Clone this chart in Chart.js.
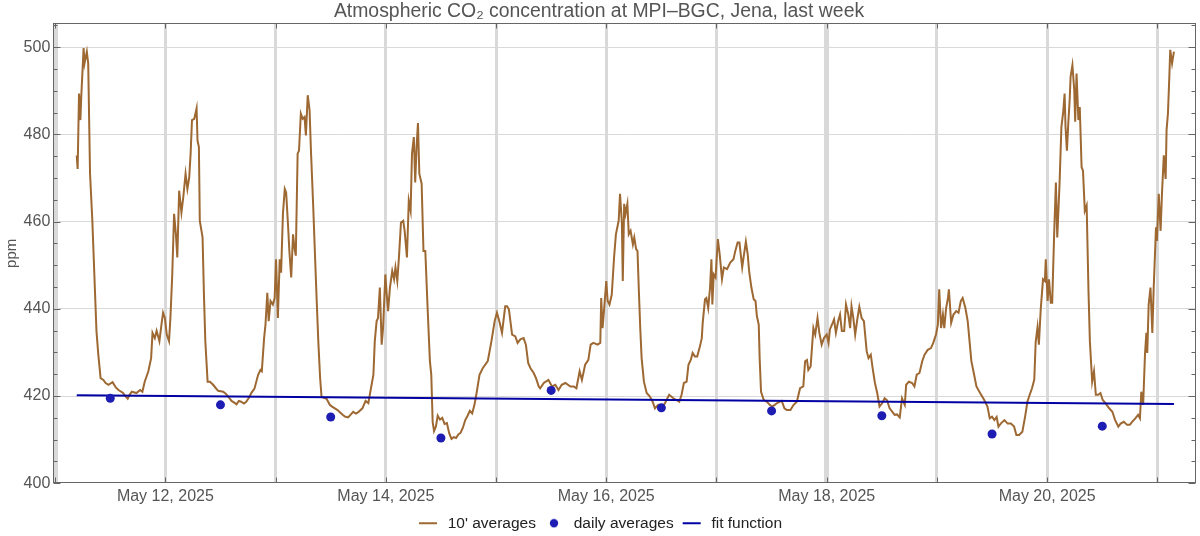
<!DOCTYPE html>
<html>
<head>
<meta charset="utf-8">
<title>Atmospheric CO2 concentration at MPI-BGC, Jena</title>
<script src="https://cdn.jsdelivr.net/npm/chart.js@4.4.1/dist/chart.umd.min.js"></script>
<style>
  html, body { margin: 0; padding: 0; background: #fff; }
  #wrap { width: 1200px; height: 536px; }
</style>
</head>
<body>
<div id="wrap"><canvas id="co2Chart"></canvas></div>
<script>
// x values are hours since May 11, 2025 00:00

// 10' averages
const hoursMay11 = [4.7, 4.9, 5.2, 5.5, 5.7, 6.2, 6.4, 6.9, 7.2, 7.6, 8.1, 8.7, 9.0, 9.4, 9.9, 10.5, 11.0, 11.6, 12.5, 13.2, 13.8, 14.8, 15.3, 15.8, 16.2, 16.7, 17.7, 18.5, 19.0, 19.5, 20.3, 20.9, 21.2, 21.7, 22.1, 22.7, 23.2, 23.5, 23.9];
const ppmMay11 = [475.2, 472.1, 489.4, 483.3, 489.0, 499.8, 496.3, 499.0, 496.3, 471.0, 460.2, 443.3, 434.9, 429.5, 424.1, 423.7, 423.0, 422.6, 423.2, 422.0, 421.4, 420.7, 420.0, 419.4, 420.3, 421.0, 420.7, 421.4, 421.0, 423.3, 425.7, 428.7, 434.5, 433.3, 435.0, 432.6, 436.8, 439.1, 437.9];

const hoursMay12 = [24.3, 24.8, 25.1, 25.5, 25.9, 26.3, 26.6, 27.0, 27.5, 27.9, 28.4, 28.8, 29.2, 29.5, 29.8, 30.3, 30.8, 31.0, 31.3, 31.5, 32.1, 32.4, 32.7, 33.2, 33.7, 34.4, 35.0, 35.5, 36.6, 37.2, 37.7, 38.4, 39.0, 39.5, 40.0, 40.5, 41.1, 41.6, 42.2, 42.7, 43.4, 44.2, 44.7, 45.0, 45.5, 45.8, 46.2, 46.5, 46.9, 47.4, 47.8];
const ppmMay12 = [434.1, 432.6, 437.9, 447.9, 461.8, 457.1, 451.8, 467.1, 462.1, 465.6, 471.0, 467.5, 470.2, 475.6, 483.3, 483.6, 486.0, 478.6, 477.1, 460.2, 456.4, 443.3, 432.6, 423.3, 423.3, 422.6, 421.8, 421.2, 421.0, 420.5, 419.9, 418.9, 418.5, 418.1, 418.9, 418.7, 418.3, 418.7, 419.6, 420.7, 421.7, 424.9, 426.0, 425.7, 433.3, 436.4, 443.7, 437.2, 441.8, 441.0, 442.5];

const hoursMay13 = [48.1, 48.5, 48.9, 49.2, 49.6, 50.0, 50.3, 50.7, 51.0, 51.4, 51.8, 52.1, 52.4, 52.8, 53.1, 53.5, 53.9, 54.3, 54.6, 55.0, 55.4, 55.7, 56.2, 56.6, 56.9, 57.3, 57.7, 58.0, 58.5, 59.1, 59.8, 60.3, 60.9, 61.5, 62.0, 62.6, 63.1, 63.8, 64.4, 64.9, 65.5, 66.0, 66.9, 67.6, 68.2, 68.7, 69.3, 69.6, 70.0, 70.3, 70.7, 71.1, 71.4, 71.9];
const ppmMay13 = [451.4, 437.9, 451.4, 448.3, 461.8, 467.5, 466.7, 459.4, 453.3, 447.2, 457.1, 454.0, 452.2, 475.6, 476.3, 484.8, 483.6, 484.0, 479.8, 489.0, 485.6, 476.3, 463.3, 451.8, 443.3, 432.6, 424.1, 419.9, 419.6, 419.4, 418.0, 417.6, 417.2, 416.8, 416.3, 415.7, 415.3, 415.1, 415.8, 416.4, 416.0, 416.3, 417.2, 418.9, 418.4, 421.4, 424.9, 432.6, 437.2, 437.9, 444.9, 431.8, 435.6, 447.9];

const hoursMay14 = [72.2, 72.5, 72.9, 73.4, 73.8, 74.1, 74.5, 74.9, 75.3, 75.8, 76.1, 76.6, 77.0, 77.4, 77.7, 78.1, 78.4, 78.7, 79.0, 79.3, 79.8, 80.2, 80.6, 81.1, 81.6, 81.9, 82.2, 82.5, 82.9, 83.3, 83.8, 84.3, 84.8, 85.3, 85.8, 86.3, 86.8, 87.3, 87.8, 88.3, 88.8, 89.3, 89.8, 90.3, 90.8, 91.3, 91.7, 92.4, 93.1, 94.2, 95.0, 95.7];
const ppmMay14 = [443.3, 439.5, 444.9, 448.7, 446.8, 449.5, 446.4, 452.5, 459.8, 460.2, 457.9, 451.8, 464.8, 462.5, 475.6, 479.4, 469.0, 477.1, 482.6, 471.0, 468.7, 453.3, 453.3, 440.2, 428.0, 424.9, 414.1, 412.0, 413.0, 415.5, 414.6, 415.0, 413.6, 413.8, 411.5, 410.2, 410.6, 410.4, 411.2, 411.6, 412.8, 414.5, 415.5, 416.6, 416.0, 418.0, 420.3, 424.9, 426.4, 428.0, 432.6, 437.2];

const hoursMay15 = [96.2, 96.8, 97.3, 98.0, 98.4, 98.8, 99.5, 100.2, 100.7, 101.3, 102.0, 102.5, 103.0, 103.5, 104.2, 104.7, 105.3, 105.6, 106.4, 107.4, 108.2, 108.9, 109.6, 110.3, 111.1, 112.2, 112.9, 113.5, 114.2, 114.7, 115.4, 116.1, 116.6, 117.2, 118.1, 118.7, 118.9, 119.2, 119.5];
const ppmMay15 = [439.1, 436.8, 434.5, 440.6, 440.6, 439.9, 434.1, 433.7, 432.2, 433.0, 433.3, 431.8, 427.6, 426.4, 425.3, 424.1, 422.2, 421.8, 423.0, 423.7, 422.2, 422.6, 421.4, 422.6, 423.0, 422.2, 422.2, 421.8, 425.7, 423.7, 427.2, 428.3, 431.8, 432.2, 431.8, 432.2, 442.5, 435.6, 439.5];

const hoursMay16 = [120.0, 120.3, 120.7, 121.2, 121.7, 122.1, 122.7, 123.0, 123.4, 123.6, 123.9, 124.2, 124.6, 124.9, 125.3, 125.8, 126.1, 126.5, 126.8, 127.1, 127.4, 127.7, 128.2, 128.8, 129.5, 130.1, 130.6, 131.3, 132.1, 132.8, 133.7, 134.6, 135.3, 135.9, 136.4, 136.9, 137.5, 137.9, 138.4, 138.8, 139.3, 139.8, 140.4, 140.8, 141.0, 141.5, 141.8, 142.2, 142.6, 142.9, 143.1, 143.4, 143.8];
const ppmMay16 = [446.4, 441.8, 441.0, 443.3, 451.8, 457.1, 460.2, 466.4, 459.8, 446.4, 464.1, 461.8, 464.1, 457.1, 457.9, 454.8, 456.4, 453.7, 453.3, 444.1, 435.6, 428.7, 423.3, 420.7, 419.9, 418.7, 417.2, 418.0, 417.2, 418.4, 420.3, 419.5, 419.1, 418.7, 420.3, 423.0, 423.3, 427.2, 428.3, 429.9, 429.1, 429.1, 431.4, 433.3, 436.8, 442.2, 442.5, 440.2, 444.9, 451.4, 441.0, 447.9, 447.2];

const hoursMay17 = [144.3, 144.7, 145.2, 145.6, 146.3, 147.0, 147.7, 148.1, 148.6, 149.0, 149.6, 149.9, 150.4, 150.8, 151.1, 151.6, 152.1, 152.5, 152.8, 153.2, 153.4, 153.7, 154.3, 155.0, 155.6, 156.1, 156.7, 157.2, 158.2, 158.8, 159.3, 160.1, 160.8, 161.5, 162.2, 162.9, 163.3, 163.7, 164.0, 164.5, 165.1, 165.5, 166.0, 166.4, 166.9, 167.4];
const ppmMay17 = [456.0, 452.5, 446.8, 449.5, 449.1, 450.6, 451.4, 453.3, 455.2, 455.2, 449.5, 451.8, 455.4, 452.5, 448.7, 444.9, 442.2, 441.8, 438.3, 436.4, 428.7, 421.0, 419.1, 418.7, 418.0, 417.6, 418.0, 418.4, 418.9, 417.2, 416.8, 416.8, 418.0, 418.7, 421.8, 422.2, 428.0, 428.3, 426.0, 426.8, 435.6, 434.1, 437.9, 434.5, 431.8, 433.3];

const hoursMay18 = [168.0, 168.4, 168.7, 169.3, 169.6, 170.0, 170.5, 170.9, 171.3, 171.8, 172.2, 172.7, 173.1, 173.4, 173.8, 174.2, 174.7, 175.1, 175.6, 176.1, 176.7, 177.1, 177.6, 178.0, 178.5, 179.0, 179.5, 180.1, 180.6, 181.1, 181.7, 182.3, 182.8, 183.3, 183.9, 184.4, 185.0, 185.3, 185.9, 186.6, 187.1, 187.6, 188.2, 188.8, 189.3, 190.0, 190.7, 191.2, 191.8];
const ppmMay18 = [434.1, 432.2, 435.3, 436.8, 437.6, 434.5, 437.2, 438.7, 434.9, 434.9, 441.0, 438.7, 435.6, 440.6, 437.9, 434.1, 437.9, 440.5, 437.9, 437.2, 430.3, 428.7, 429.5, 426.4, 423.0, 420.7, 417.6, 418.4, 419.5, 419.1, 417.2, 416.4, 415.7, 415.8, 415.1, 419.5, 418.0, 422.6, 423.3, 423.0, 422.2, 424.9, 425.3, 428.0, 429.5, 430.6, 431.0, 432.2, 434.1];

const hoursMay19 = [192.2, 192.5, 192.9, 193.3, 193.6, 194.0, 194.4, 194.6, 195.1, 195.6, 196.2, 196.7, 197.2, 197.6, 198.2, 198.7, 199.1, 199.5, 200.1, 200.6, 201.4, 202.3, 203.0, 203.5, 204.0, 204.5, 205.0, 205.4, 205.9, 206.7, 207.4, 208.1, 208.8, 209.3, 209.9, 210.6, 211.2, 211.7, 212.2, 212.7, 213.2, 213.5, 213.9, 214.2, 214.6, 215.1, 215.5, 215.7];
const ppmMay19 = [436.4, 444.5, 435.6, 438.7, 435.6, 440.2, 442.5, 444.5, 436.8, 438.7, 439.5, 439.1, 441.8, 442.5, 440.2, 437.2, 432.6, 428.0, 424.9, 422.2, 420.7, 419.1, 417.6, 414.9, 415.3, 414.5, 415.2, 413.0, 413.7, 414.5, 413.7, 413.7, 413.0, 411.1, 411.1, 411.8, 415.3, 418.7, 420.3, 421.8, 423.8, 432.4, 435.8, 431.8, 439.9, 446.8, 446.4, 451.4];

const hoursMay20 = [216.1, 216.4, 216.8, 217.1, 217.5, 217.9, 218.2, 218.7, 219.1, 219.5, 219.8, 220.0, 220.3, 220.6, 220.9, 221.1, 221.5, 221.9, 222.1, 222.4, 222.8, 223.1, 223.5, 223.8, 224.2, 224.6, 225.0, 225.3, 225.8, 226.2, 226.6, 227.1, 227.6, 228.1, 228.7, 229.5, 230.2, 230.8, 231.5, 232.0, 232.7, 233.4, 234.0, 234.5, 235.2, 235.8, 236.2, 236.5, 236.9, 237.3, 237.6, 237.8, 238.1, 238.5, 238.9, 239.2, 239.7, 239.9];
const ppmMay20 = [441.8, 446.8, 441.4, 441.4, 456.4, 469.0, 456.4, 468.7, 481.7, 485.2, 489.4, 481.7, 476.3, 482.5, 487.9, 493.2, 495.9, 490.2, 482.9, 494.0, 483.3, 486.3, 472.5, 471.7, 462.5, 463.7, 444.1, 432.6, 423.3, 425.7, 420.3, 420.3, 420.7, 419.1, 418.4, 417.2, 416.4, 414.5, 413.0, 413.7, 414.1, 413.4, 413.4, 414.1, 414.9, 415.7, 414.9, 421.0, 418.0, 429.5, 434.5, 429.9, 441.0, 444.9, 434.5, 444.9, 458.7, 455.6];

const hoursMay21 = [240.3, 240.7, 241.0, 241.4, 241.8, 242.0, 242.3, 242.6, 242.8, 243.2, 243.6];
const ppmMay21 = [466.4, 457.9, 466.4, 475.2, 469.8, 481.0, 484.8, 493.2, 499.4, 496.3, 499.0];

// daily averages (plotted at noon)
const dailyHours = [12, 36, 60, 84, 108, 132, 156, 180, 204, 228];
const dailyPpm = [419.5, 418.0, 415.2, 410.4, 421.3, 417.3, 416.6, 415.5, 411.3, 413.1];

// fit function end points
const fitHours = [4.7, 243.6];
const fitPpm = [420.2, 418.2];

// axes
const dayTicks = [0, 24, 48, 72, 96, 120, 144, 168, 192, 216, 240];
const dayLabels = ["", "May 12, 2025", "", "May 14, 2025", "", "May 16, 2025", "", "May 18, 2025", "", "May 20, 2025", ""];
const ppmTicks = [400, 405, 410, 415, 420, 425, 430, 435, 440, 445, 450, 455, 460, 465, 470, 475, 480, 485, 490, 495, 500, 505];
const ppmLabels = [400, 420, 440, 460, 480, 500];

const allHours = [hoursMay11, hoursMay12, hoursMay13, hoursMay14, hoursMay15, hoursMay16, hoursMay17, hoursMay18, hoursMay19, hoursMay20, hoursMay21].flat();
const allPpm = [ppmMay11, ppmMay12, ppmMay13, ppmMay14, ppmMay15, ppmMay16, ppmMay17, ppmMay18, ppmMay19, ppmMay20, ppmMay21].flat();

const toPoints = (xs, ys) => xs.map((x, i) => ({ x, y: ys[i] }));

const BROWN = "#9d6832";
const DOT_BLUE = "#1d1db3";
const FIT_BLUE = "#0000a3";

// small canvases used as legend symbols
function makeIcon(kind, color) {
  const c = document.createElement("canvas");
  c.width = 20;
  c.height = 10;
  const g = c.getContext("2d");
  g.fillStyle = color;
  if (kind === "dot") {
    g.beginPath();
    g.arc(10, 5, 4.2, 0, Math.PI * 2);
    g.fill();
  } else {
    g.fillRect(1, 4, 18, 2);
  }
  return c;
}
const legendIcons = [makeIcon("line", BROWN), makeIcon("dot", DOT_BLUE), makeIcon("line", FIT_BLUE)];

// Mathematica-like frame with inward ticks on all four sides
const framePlugin = {
  id: "frame",
  afterDatasetsDraw(chart) {
    const { ctx, chartArea: a, scales: { x, y } } = chart;
    const L = Math.round(a.left) + 0.5;
    const R = Math.round(a.right) - 0.5;
    const T = Math.round(a.top) + 0.5;
    const B = Math.round(a.bottom) - 0.5;
    ctx.save();
    ctx.strokeStyle = "#666";
    ctx.lineWidth = 1;
    ctx.beginPath();
    ppmTicks.forEach((v) => {
      const py = Math.round(y.getPixelForValue(v)) + 0.5;
      const len = v % 20 === 0 ? 7 : 4;
      ctx.moveTo(L, py);
      ctx.lineTo(L + len, py);
      ctx.moveTo(R, py);
      ctx.lineTo(R - len, py);
    });
    dayTicks.forEach((v) => {
      const px = Math.round(x.getPixelForValue(v)) + 0.5;
      ctx.moveTo(px, B);
      ctx.lineTo(px, B - 5);
      ctx.moveTo(px, T);
      ctx.lineTo(px, T + 5);
    });
    ctx.stroke();
    ctx.strokeRect(L, T, R - L, B - T);
    ctx.restore();
  },
};

Chart.defaults.font.family = "'Liberation Sans', Arial, Helvetica, sans-serif";
Chart.defaults.color = "#555";

new Chart(document.getElementById("co2Chart"), {
  type: "line",
  data: {
    datasets: [
      {
        label: "10' averages",
        data: toPoints(allHours, allPpm),
        borderColor: BROWN,
        borderWidth: 2,
        pointRadius: 0,
        tension: 0,
        order: 3,
      },
      {
        label: "daily averages",
        data: toPoints(dailyHours, dailyPpm),
        showLine: false,
        pointRadius: 4.5,
        pointBackgroundColor: DOT_BLUE,
        pointBorderWidth: 0,
        borderColor: DOT_BLUE,
        backgroundColor: DOT_BLUE,
        order: 1,
      },
      {
        label: "fit function",
        data: toPoints(fitHours, fitPpm),
        borderColor: FIT_BLUE,
        borderWidth: 2,
        pointRadius: 0,
        order: 2,
      },
    ],
  },
  options: {
    responsive: true,
    maintainAspectRatio: false,
    animation: false,
    layout: { padding: { left: 0, right: 2, top: 0, bottom: -5 } },
    plugins: {
      tooltip: { enabled: false },
      title: {
        display: true,
        text: "Atmospheric CO\u2082 concentration at MPI\u2013BGC, Jena, last week",
        color: "#555",
        font: { size: 19.4, weight: "normal" },
        padding: { top: 0, bottom: 0 },
      },
      legend: {
        position: "bottom",
        labels: {
          usePointStyle: true,
          pointStyleWidth: 24,
          boxHeight: 14,
          padding: 6,
          color: "#222",
          font: { size: 15.5 },
          sort: (a, b) => a.datasetIndex - b.datasetIndex,
          generateLabels(chart) {
            const items = Chart.defaults.plugins.legend.labels.generateLabels(chart);
            items.forEach((it) => {
              it.pointStyle = legendIcons[it.datasetIndex];
            });
            return items;
          },
        },
      },
    },
    scales: {
      x: {
        type: "linear",
        min: -0.4,
        max: 248.3,
        afterBuildTicks: (scale) => {
          scale.ticks = dayTicks.map((v) => ({ value: v }));
        },
        afterFit: (scale) => {
          scale.height = 26.2;
        },
        border: { display: false },
        grid: {
          color: "#d9d9d9",
          lineWidth: (c) => (c.tick && (c.tick.value === 0 || c.tick.value === 168) ? 5 : 3),
          drawTicks: false,
        },
        ticks: {
          padding: 4,
          maxRotation: 0,
          autoSkip: false,
          color: "#555",
          font: { size: 16 },
          callback: (v) => dayLabels[dayTicks.indexOf(v)] ?? "",
        },
      },
      y: {
        min: 400,
        max: 505.5,
        afterBuildTicks: (scale) => {
          scale.ticks = ppmTicks.map((v) => ({ value: v }));
        },
        afterFit: (scale) => {
          scale.width = 53.3;
        },
        border: { display: false },
        title: {
          display: true,
          text: "ppm",
          color: "#555",
          font: { size: 15 },
          padding: { top: 3, bottom: 0 },
        },
        grid: {
          color: (c) => (c.tick && ppmLabels.includes(c.tick.value) && c.tick.value > 400 ? "#d9d9d9" : "rgba(0,0,0,0)"),
          lineWidth: 1,
          drawTicks: false,
        },
        ticks: {
          padding: 3,
          autoSkip: false,
          color: "#555",
          font: { size: 16 },
          callback: (v) => (ppmLabels.includes(v) ? String(v) : ""),
        },
      },
    },
  },
  plugins: [framePlugin],
});
</script>
</body>
</html>
